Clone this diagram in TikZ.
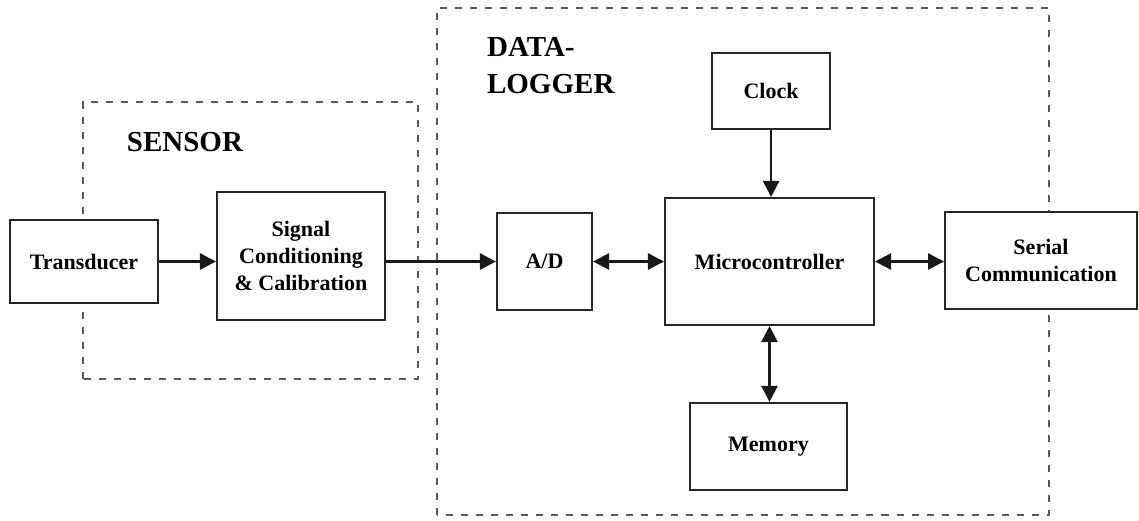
\documentclass[tikz,border=0pt]{standalone}
\usepackage{fontspec}
\setmainfont{Liberation Serif}
\usetikzlibrary{arrows.meta}

\begin{document}
\begin{tikzpicture}[
  block/.style={draw=black!85, line width=1pt, fill=white, inner sep=2pt, align=center, font=\fontsize{11}{13.5}\selectfont\bfseries},
  groupframe/.style={draw=black!65, line width=0.9pt, dash pattern=on 3.5pt off 4pt},
  grouptitle/.style={font=\fontsize{14.5}{18.5}\selectfont\bfseries, align=left},
  flow/.style={line width=1.2pt, draw=black!90, -{Triangle[length=8pt,width=8pt]}},
  twoway/.style={line width=1.2pt, draw=black!90, {Triangle[length=8pt,width=8pt]}-{Triangle[length=8pt,width=8pt]}}
]
\useasboundingbox (0,0) rectangle (20,9.131);

% sensor and data-logger groups
\draw[groupframe] (1.457,2.476) rectangle (7.340,7.340);
\draw[groupframe] (7.673,0.088) rectangle (18.419,8.990);

\node[grouptitle] (sensorlbl) at (3.248,6.637) {SENSOR};
\node[grouptitle, anchor=west] (loggerlbl) at (8.428,7.972) {DATA-\\LOGGER};


\node[block, minimum width=2.60cm, minimum height=1.46cm] (trans) at (1.475,4.539) {Transducer};

\node[block, minimum width=2.95cm, minimum height=2.25cm] (sig) at (5.285,4.636) {Signal\\Conditioning\\\& Calibration};

\node[block, minimum width=1.67cm, minimum height=1.70cm] (ad) at (9.561,4.539) {A/D};

\node[block, minimum width=3.67cm, minimum height=2.23cm] (mcu) at (13.512,4.539) {Microcontroller};

\node[block, minimum width=2.07cm, minimum height=1.33cm] (clock) at (13.54,7.533) {Clock};

\node[block, minimum width=2.76cm, minimum height=1.53cm] (mem) at (13.494,1.291) {Memory};

\node[block, minimum width=3.37cm, minimum height=1.70cm] (serial) at (18.279,4.557) {Serial\\Communication};


\draw[flow] (trans.east) -- (trans.east -| sig.west);
\draw[flow] (ad.west -| sig.east) -- (ad.west);
\draw[twoway] (ad.east) -- (mcu.west);
\draw[twoway] (mcu.east) -- (mcu.east -| serial.west);
\draw[flow] (clock.south) -- (clock.south |- mcu.north);
\draw[twoway] (mcu.south) -- (mcu.south |- mem.north);

\end{tikzpicture}
\end{document}
